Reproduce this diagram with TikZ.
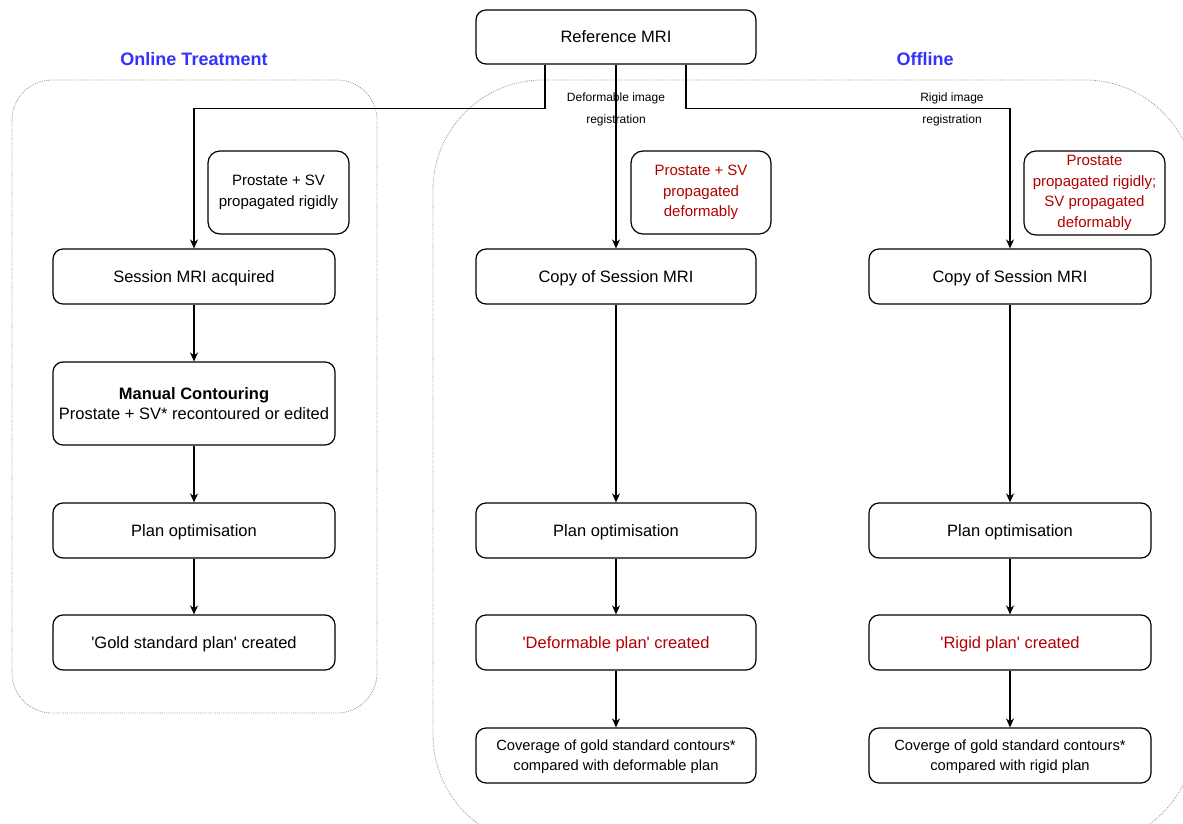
\documentclass[tikz,border=0pt]{standalone}
\usepackage{fontspec}
\setmainfont{Liberation Sans}[Ligatures=TeXOff]
\usetikzlibrary{arrows.meta}
\definecolor{myred}{HTML}{B20000}
\definecolor{myblue}{HTML}{3333FF}
\begin{document}
\begin{tikzpicture}[x=1pt,y=-1pt,
  box/.style={draw, rounded corners=10pt, line width=1.2pt, align=center,
    font=\fontsize{16.5}{20}\selectfont, minimum width=282pt, minimum height=55pt, inner sep=2pt, text depth=0.5pt},
  note/.style={draw, rounded corners=12pt, line width=1.2pt, align=center,
    font=\fontsize{15}{20.5}\selectfont, minimum width=141pt, minimum height=83pt, inner sep=2pt},
  arr/.style={line width=1.2pt, -{Stealth[length=9pt,width=8pt]}},
  lbl/.style={align=center, font=\fontsize{12}{22}\selectfont, inner sep=0pt},
  ttl/.style={font=\fontsize{18}{22}\selectfont\bfseries, text=myblue},
  cont/.style={draw=gray!85, line width=0.8pt, dash pattern=on 0.8pt off 1.1pt}]
\useasboundingbox (0,0) rectangle (1183,824);
% containers
\draw[cont, rounded corners=40pt] (12,80) rectangle (377,713);
\begin{scope}
\clip (0,0) rectangle (1183,824);
\draw[cont, rounded corners=110pt] (433,80) rectangle (1195,845);
\end{scope}
% titles
\node[ttl] (t1) at (194,59) {Online Treatment};
\node[ttl] (t2) at (925,59) {Offline};
% top
\node[box, minimum width=280pt, minimum height=54pt] (ref) at (616,37) {Reference MRI};
% online column
\node[box] (s1) at (194,276.5) {Session MRI acquired};
\node[box, minimum height=83pt] (mc) at (194,403.5) {\textbf{Manual Contouring}\\Prostate + SV* recontoured or edited};
\node[box] (po1) at (194,530.5) {Plan optimisation};
\node[box] (gs) at (194,642.5) {'Gold standard plan' created};
\node[note] (n1) at (278.5,192.5) {Prostate + SV\\propagated rigidly};
% deformable column
\node[box, minimum width=280pt] (c2) at (616,276.5) {Copy of Session MRI};
\node[box, minimum width=280pt] (po2) at (616,530.5) {Plan optimisation};
\node[box, minimum width=280pt, text=myred] (dp) at (616,642.5) {'Deformable plan' created};
\node[box, minimum width=280pt, font=\fontsize{14.7}{20}\selectfont] (cv2) at (616,755.5) {Coverage of gold standard contours*\\compared with deformable plan};
\node[note, text=myred, minimum width=140pt] (n2) at (701,192.5) {Prostate + SV\\propagated\\deformably};
% rigid column
\node[box] (c3) at (1010,276.5) {Copy of Session MRI};
\node[box] (po3) at (1010,530.5) {Plan optimisation};
\node[box, text=myred] (rp) at (1010,642.5) {'Rigid plan' created};
\node[box, font=\fontsize{14.7}{20}\selectfont] (cv3) at (1010,755.5) {Coverge of gold standard contours*\\compared with rigid plan};
\node[note, text=myred, minimum height=84pt] (n3) at (1094.5,193) {Prostate\\propagated rigidly;\\SV propagated\\deformably};
% connectors
\draw[arr] ([xshift=-71pt]ref.south) -- ++(0,44) -| (s1.north);
\draw[arr] (ref.south) -- (c2.north);
\draw[arr] ([xshift=70pt]ref.south) -- ++(0,44) -| (c3.north);
\node[lbl] (l1) at (616,109) {Deformable image\\registration};
\node[lbl] (l2) at (952,109) {Rigid image\\registration};
\draw[arr] (s1) -- (mc);
\draw[arr] (mc) -- (po1);
\draw[arr] (po1) -- (gs);
\draw[arr] (c2) -- (po2);
\draw[arr] (po2) -- (dp);
\draw[arr] (dp) -- (cv2);
\draw[arr] (c3) -- (po3);
\draw[arr] (po3) -- (rp);
\draw[arr] (rp) -- (cv3);
\end{tikzpicture}
\end{document}
